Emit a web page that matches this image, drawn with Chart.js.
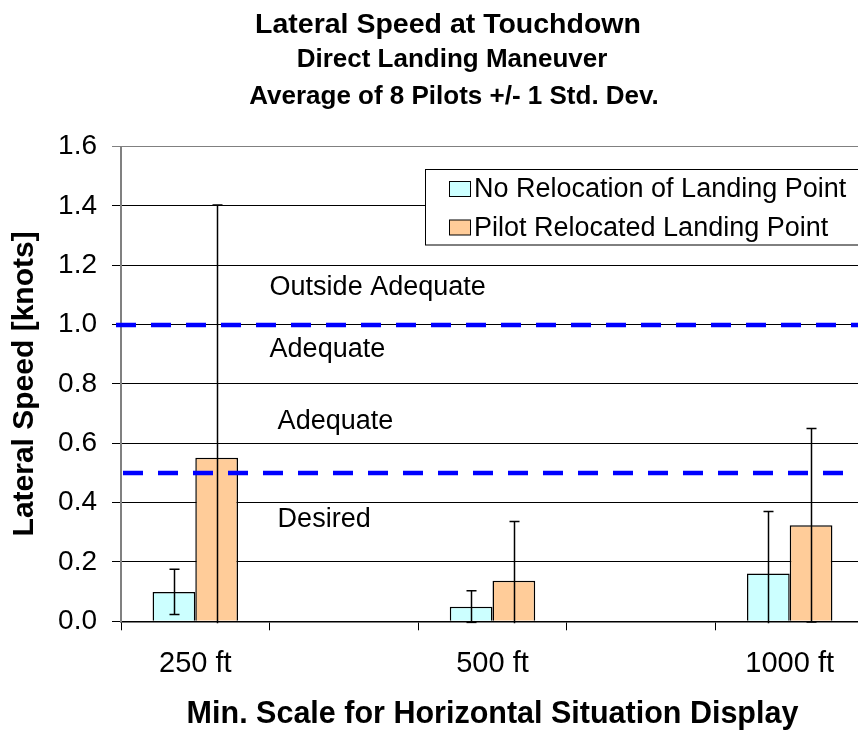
<!DOCTYPE html>
<html><head><meta charset="utf-8">
<script src="https://cdn.jsdelivr.net/npm/chart.js@4/dist/chart.umd.min.js"></script>
<style>html,body{margin:0;padding:0;overflow:hidden;background:#fff}#wrap{width:866px;height:732px;position:relative}</style>
</head><body><div id="wrap"><canvas id="c" width="866" height="732"></canvas></div>
<script>
// ---- data ----
const categories = ["250 ft", "", "500 ft", "", "1000 ft"];
const seriesNames = ["No Relocation of Landing Point", "Pilot Relocated Landing Point"];
const noRelocationMean = [0.099, null, 0.049, null, 0.161];
const noRelocationSD   = [0.076, null, 0.054, null, 0.209];
const pilotRelocatedMean = [0.551, null, 0.137, null, 0.324];
const pilotRelocatedSD   = [0.852, null, 0.199, null, 0.326];
const yTickValues = [0.0, 0.2, 0.4, 0.6, 0.8, 1.0, 1.2, 1.4, 1.6];
const thresholdValues = [1.0, 0.5];
const zoneLabels = ["Outside Adequate", "Adequate", "Adequate", "Desired"];
const zoneLabelValues = [1.10, 0.891, 0.647, 0.317];
const titleLines = ["Lateral Speed at Touchdown", "Direct Landing Maneuver", "Average of 8 Pilots +/- 1 Std. Dev."];
const xAxisTitle = "Min. Scale for Horizontal Situation Display";
const yAxisTitle = "Lateral Speed [knots]";

// ---- styles ----
const FONT = '"Liberation Sans", Arial, Helvetica, sans-serif';
const seriesColors = ["#CCFFFF", "#FFCC99"];
const zoneLabelX = [1.0, 1.0, 1.054, 1.054]; // in category widths from plot left
const titleStyle = [
  {size: 28.5, y: 33, x: 448},
  {size: 26, y: 67, x: 452},
  {size: 26, y: 104, x: 454}
];

const errSD = [noRelocationSD, pilotRelocatedSD];

const decorPlugin = {
  id: 'decor',
  afterDatasetsDraw(chart) {
    const ctx = chart.ctx, ca = chart.chartArea;
    const y = chart.scales.y;
    // threshold dashed lines
    ctx.save();
    ctx.strokeStyle = '#0000FF';
    ctx.lineWidth = 4.5;
    ctx.setLineDash([20, 15]);
    const starts = [ca.left - 5, ca.left + 2];
    thresholdValues.forEach((v, i) => {
      const py = Math.round(y.getPixelForValue(v));
      ctx.beginPath();
      ctx.moveTo(starts[i], py);
      ctx.lineTo(chart.width, py);
      ctx.stroke();
    });
    ctx.restore();
    // error bars
    ctx.save();
    ctx.beginPath();
    ctx.rect(ca.left, ca.top - 2, ca.right - ca.left, ca.bottom - ca.top + 4);
    ctx.clip();
    ctx.strokeStyle = '#000';
    ctx.lineWidth = 1.5;
    chart.data.datasets.forEach((ds, di) => {
      const meta = chart.getDatasetMeta(di);
      meta.data.forEach((el, j) => {
        const m = ds.data[j];
        if (m === null || m === undefined) return;
        const sd = errSD[di][j];
        const x = Math.round(el.x) + 0.5;
        const top = y.getPixelForValue(m + sd);
        const bot = y.getPixelForValue(m - sd);
        ctx.beginPath();
        ctx.moveTo(x, top); ctx.lineTo(x, bot);
        ctx.moveTo(x - 5, top); ctx.lineTo(x + 5, top);
        ctx.moveTo(x - 5, bot); ctx.lineTo(x + 5, bot);
        ctx.stroke();
      });
    });
    ctx.restore();
  },
  afterDraw(chart) {
    const ctx = chart.ctx;
    const xs = chart.scales.x, y = chart.scales.y;
    const cw = xs.getPixelForValue(1) - xs.getPixelForValue(0);
    const x0 = xs.getPixelForValue(0) - cw / 2;
    ctx.save();
    // zone labels
    ctx.fillStyle = '#000';
    ctx.font = '27px ' + FONT;
    ctx.textAlign = 'left';
    ctx.textBaseline = 'alphabetic';
    zoneLabels.forEach((t, i) => {
      ctx.fillText(t, x0 + zoneLabelX[i] * cw, y.getPixelForValue(zoneLabelValues[i]));
    });
    // titles
    ctx.textAlign = 'center';
    titleLines.forEach((t, i) => {
      ctx.font = 'bold ' + titleStyle[i].size + 'px ' + FONT;
      ctx.fillText(t, titleStyle[i].x, titleStyle[i].y);
    });
    // legend
    ctx.fillStyle = '#fff';
    ctx.fillRect(425.5, 169.5, chart.width, 75.5);
    ctx.strokeStyle = '#000';
    ctx.lineWidth = 1;
    ctx.strokeRect(425.5, 169.5, chart.width, 75.5);
    ctx.font = '27px ' + FONT;
    ctx.textAlign = 'left';
    seriesNames.forEach((name, i) => {
      const ry = 181 + i * 38.5;
      ctx.fillStyle = seriesColors[i];
      ctx.fillRect(449.5, ry + 0.5, 21, 15);
      ctx.strokeRect(449.5, ry + 0.5, 21, 15);
      ctx.fillStyle = '#000';
      ctx.fillText(name, 474, ry + 16);
    });
    ctx.restore();
  }
};

new Chart(document.getElementById('c'), {
  type: 'bar',
  data: {
    labels: categories,
    datasets: [
      {label: seriesNames[0], data: noRelocationMean, backgroundColor: seriesColors[0], borderColor: '#000', borderWidth: 1.5},
      {label: seriesNames[1], data: pilotRelocatedMean, backgroundColor: seriesColors[1], borderColor: '#000', borderWidth: 1.5}
    ]
  },
  options: {
    responsive: false,
    animation: false,
    devicePixelRatio: 1,
    layout: {padding: {top: 146.5, right: 2, left: 0, bottom: 0}, autoPadding: false},
    datasets: {bar: {categoryPercentage: 0.575, barPercentage: 1.0, skipNull: false}},
    plugins: {legend: {display: false}, title: {display: false}, tooltip: {enabled: false}},
    scales: {
      x: {
        offset: true,
        grid: {display: true, drawOnChartArea: false, drawTicks: true, tickLength: 9, color: '#000', lineWidth: 1, offset: true},
        border: {color: '#000', width: 1.5},
        ticks: {color: '#000', font: {family: FONT, size: 29}, padding: 16, maxRotation: 0, autoSkip: false},
        title: {display: true, text: xAxisTitle, color: '#000', font: {family: FONT, size: 30.5, weight: 'bold', lineHeight: 1}, padding: {top: 0, bottom: 2}},
        afterFit(s) { s.height = 732 - 621.3; }
      },
      y: {
        min: 0, max: 1.6,
        afterBuildTicks(s) { s.ticks = yTickValues.map(v => ({value: v})); },
        grid: {color: c => (c.tick && Math.abs(c.tick.value - 1.6) < 1e-9) ? '#808080' : '#000', lineWidth: 1, tickLength: 9, drawTicks: true},
        border: {color: '#808080', width: 2},
        ticks: {color: '#000', font: {family: FONT, size: 28}, padding: 15, callback: v => Number(v).toFixed(1)},
        title: {display: true, text: yAxisTitle, color: '#000', font: {family: FONT, size: 30, weight: 'bold', lineHeight: 1}, padding: {top: 10, bottom: 0}},
        afterFit(s) { s.width = 121; }
      }
    }
  },
  plugins: [decorPlugin]
});
</script>
</body></html>
